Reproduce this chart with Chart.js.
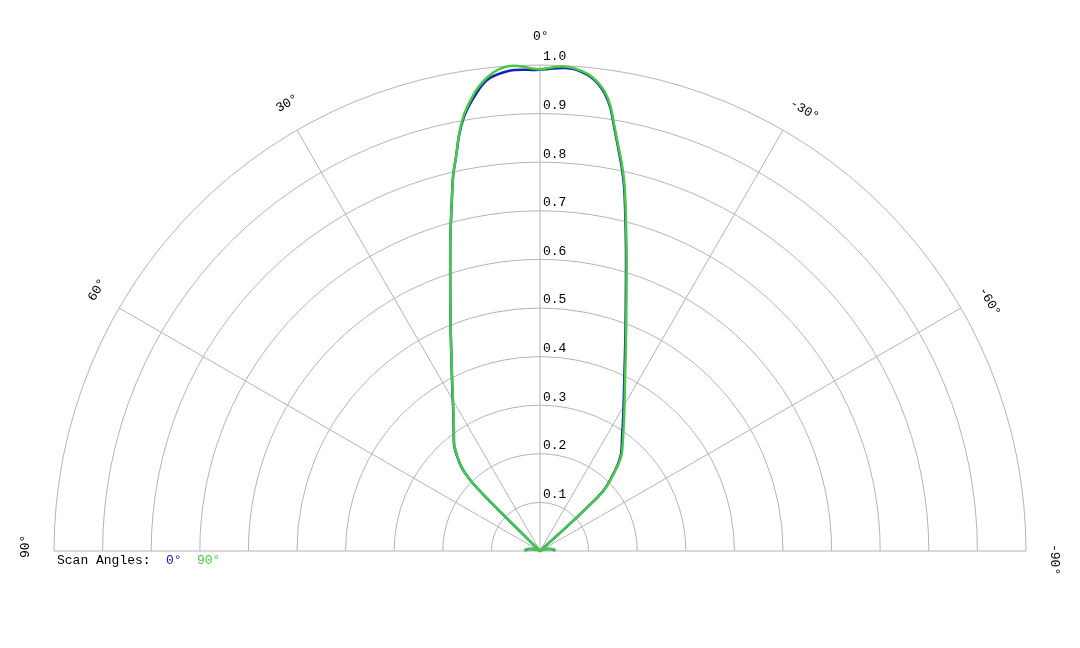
<!DOCTYPE html>
<html>
<head>
<meta charset="utf-8">
<style>
  html, body { margin: 0; padding: 0; background: #fff; }
  canvas { display: block; }
</style>
<script src="https://cdn.jsdelivr.net/npm/chart.js@4/dist/chart.umd.min.js"></script>
</head>
<body>
<canvas id="patternChart" width="1080" height="648"></canvas>
<script>
// angle in degrees from broadside, positive to the left
const angles = [-90, -85, -80, -75, -65, -55, -48.2, -47.8, -47.5, -47, -46, -44, -42, -40, -38, -36, -33, -30, -27, -24, -21, -18, -16, -14, -13, -12, -11, -10, -9, -8, -7, -6, -5, -4, -3, -2, -1,
  0, 1, 2, 3, 4, 5, 6, 7, 8, 9, 10, 11, 12, 13, 14, 16, 18, 21, 24, 27, 30, 33, 36, 39, 41, 43, 44, 44.8, 45.2, 45.4, 45.5, 45.6, 55, 65, 75, 80, 85, 90];

const scan0 = [0.031, 0.029, 0.023, 0.015, 0.006, 0.002, 0.000, 0.058, 0.108, 0.163, 0.188, 0.213, 0.239, 0.259, 0.273, 0.287, 0.313, 0.344, 0.381, 0.429, 0.491, 0.572, 0.642, 0.724, 0.769, 0.808, 0.844, 0.882, 0.924, 0.952, 0.970, 0.982, 0.989, 0.994, 0.995, 0.994, 0.992,
  0.990, 0.990, 0.991, 0.991, 0.989, 0.985, 0.979, 0.967, 0.949, 0.929, 0.905, 0.872, 0.830, 0.794, 0.749, 0.669, 0.598, 0.514, 0.449, 0.399, 0.359, 0.327, 0.302, 0.281, 0.261, 0.238, 0.220, 0.195, 0.150, 0.100, 0.050, 0.000, 0.002, 0.006, 0.015, 0.023, 0.029, 0.031];

const scan90 = [0.032, 0.030, 0.024, 0.016, 0.006, 0.002, 0.000, 0.060, 0.110, 0.165, 0.190, 0.215, 0.242, 0.262, 0.276, 0.291, 0.317, 0.348, 0.385, 0.433, 0.495, 0.576, 0.646, 0.728, 0.773, 0.812, 0.847, 0.885, 0.927, 0.955, 0.972, 0.984, 0.991, 0.996, 0.998, 0.997, 0.994,
  0.991, 0.993, 0.997, 1.000, 0.999, 0.994, 0.985, 0.972, 0.955, 0.933, 0.908, 0.873, 0.830, 0.794, 0.749, 0.669, 0.598, 0.514, 0.449, 0.398, 0.358, 0.326, 0.301, 0.280, 0.260, 0.238, 0.220, 0.195, 0.150, 0.100, 0.050, 0.000, 0.002, 0.006, 0.016, 0.024, 0.030, 0.032];

const ringTicks = [0.1, 0.2, 0.3, 0.4, 0.5, 0.6, 0.7, 0.8, 0.9, 1.0];
const spokeAngles = [60, 30, 0, -30, -60];
const angleLabels = [90, 60, 30, 0, -30, -60, -90];

const blue = "#1226b0";
const green = "#48c848";
const font = "13px 'Liberation Mono', 'Courier New', monospace";

function toXY(values) {
  return angles.map((a, i) => {
    const t = a * Math.PI / 180;
    return { x: -values[i] * Math.sin(t), y: values[i] * Math.cos(t) };
  });
}

const polarGrid = {
  id: "polarGrid",
  beforeDatasetsDraw(chart) {
    const { ctx, scales: { x, y } } = chart;
    const cx = x.getPixelForValue(0);
    const cy = y.getPixelForValue(0);
    const unit = x.getPixelForValue(1) - cx;
    ctx.save();
    ctx.strokeStyle = "#b4b4b4";
    ctx.lineWidth = 1;
    ringTicks.forEach(r => {
      ctx.beginPath();
      ctx.arc(cx, cy, r * unit, Math.PI, 2 * Math.PI);
      ctx.stroke();
    });
    ctx.beginPath();
    ctx.moveTo(x.getPixelForValue(-1), cy);
    ctx.lineTo(x.getPixelForValue(1), cy);
    ctx.stroke();
    spokeAngles.forEach(a => {
      const t = a * Math.PI / 180;
      ctx.beginPath();
      ctx.moveTo(cx, cy);
      ctx.lineTo(x.getPixelForValue(-Math.sin(t)), y.getPixelForValue(Math.cos(t)));
      ctx.stroke();
    });
    ctx.restore();
  },
  afterDatasetsDraw(chart) {
    const { ctx, scales: { x, y } } = chart;
    const cx = x.getPixelForValue(0);
    const cy = y.getPixelForValue(0);
    const unit = x.getPixelForValue(1) - cx;
    ctx.save();
    ctx.font = font;
    ctx.fillStyle = "#000";
    ctx.textBaseline = "middle";
    ctx.textAlign = "left";
    ringTicks.forEach(r => {
      ctx.fillText(r.toFixed(1), cx + 3, y.getPixelForValue(r) - 8);
    });
    angleLabels.forEach(a => {
      const t = a * Math.PI / 180;
      const rad = unit + 28;
      ctx.save();
      ctx.translate(cx - rad * Math.sin(t), cy - rad * Math.cos(t));
      ctx.rotate(-t);
      ctx.fillText(a + "°", -7, 0);
      ctx.restore();
    });
    // scan angle key
    const ly = cy + 10;
    ctx.fillText("Scan Angles:", 57, ly);
    ctx.fillStyle = blue;
    ctx.fillText("0°", 166, ly);
    ctx.fillStyle = green;
    ctx.fillText("90°", 197, ly);
    ctx.restore();
  }
};

new Chart(document.getElementById("patternChart"), {
  type: "scatter",
  data: {
    datasets: [
      {
        label: "0°",
        data: toXY(scan0),
        showLine: true,
        borderColor: blue,
        borderWidth: 2.5,
        pointRadius: 0,
        tension: 0.3,
        clip: false,
        order: 1,
      },
      {
        label: "90°",
        data: toXY(scan90),
        showLine: true,
        borderColor: green,
        borderWidth: 2.5,
        pointRadius: 0,
        tension: 0.3,
        clip: false,
        order: 0,
      },
    ],
  },
  options: {
    responsive: false,
    animation: false,
    events: [],
    layout: { padding: { left: 54, right: 54, top: 65, bottom: 97 } },
    scales: {
      x: { type: "linear", min: -1, max: 1, display: false },
      y: { type: "linear", min: 0, max: 1, display: false },
    },
    plugins: {
      legend: { display: false },
      tooltip: { enabled: false },
    },
  },
  plugins: [polarGrid],
});
</script>
</body>
</html>
